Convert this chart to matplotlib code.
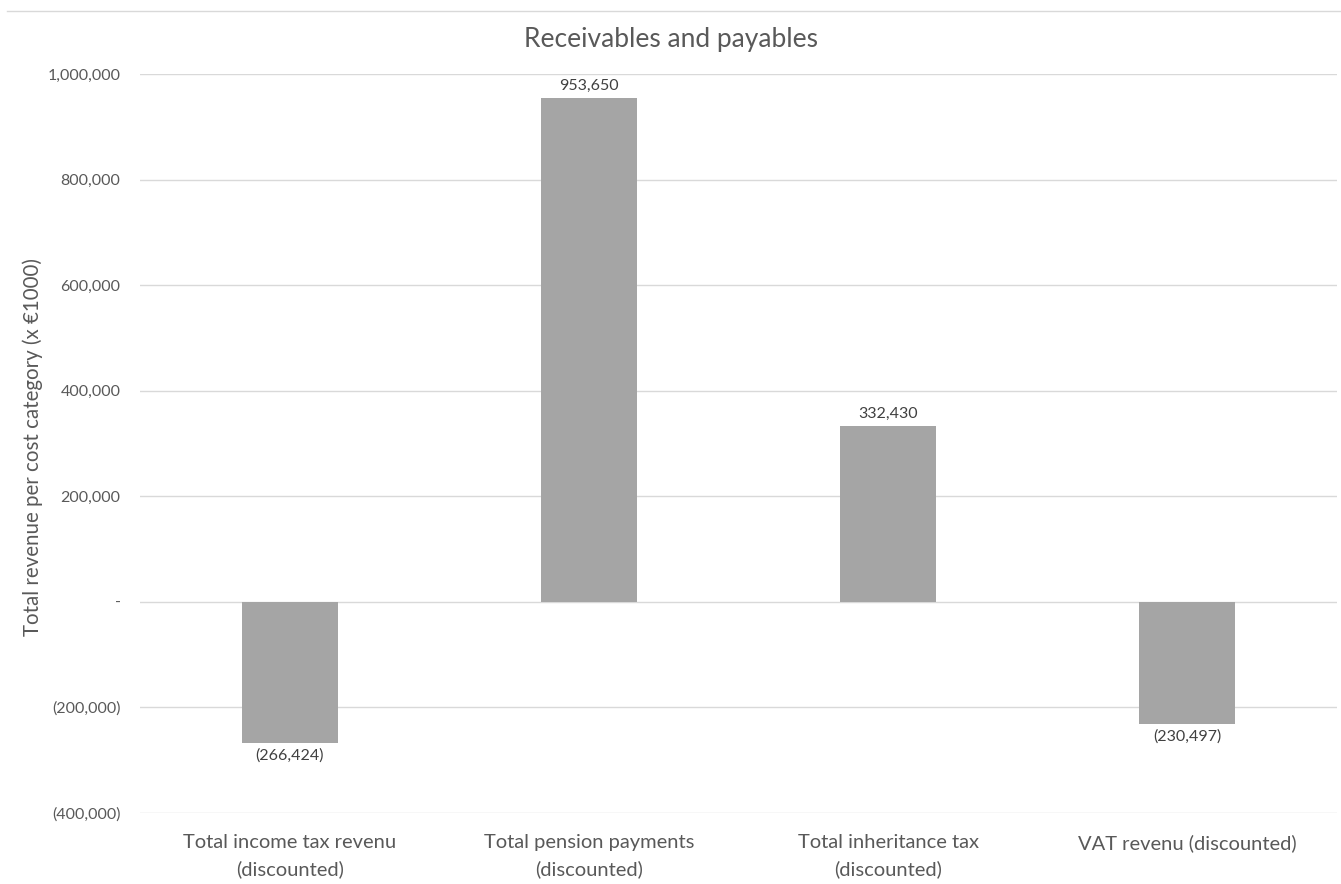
import matplotlib.pyplot as plt
from matplotlib.ticker import FuncFormatter, MultipleLocator
from matplotlib.lines import Line2D

categories = [
    "Total income tax revenu\n(discounted)",
    "Total pension payments\n(discounted)",
    "Total inheritance tax\n(discounted)",
    "VAT revenu (discounted)",
]
values = [-266424, 953650, 332430, -230497]

plt.rcParams['font.family'] = ['Lato', 'DejaVu Sans']
text_color = "#595959"


def acct(v):
    if abs(v) < 0.5:
        return "-"
    s = f"{abs(v):,.0f}"
    return f"({s})" if v < 0 else s


fig = plt.figure(figsize=(13.41, 8.84), dpi=100)
ax = fig.add_axes([0.1044, 0.0803, 0.8926, 0.836])

x = list(range(len(categories)))
bars = ax.bar(x, values, width=0.32, color="#A5A5A5", zorder=3)

for b, v in zip(bars, values):
    cx = b.get_x() + b.get_width() / 2
    if v >= 0:
        ax.annotate(acct(v), (cx, v), xytext=(0, 4), textcoords="offset points",
                    ha="center", va="bottom", fontsize=11.5, color="#404040")
    else:
        ax.annotate(acct(v), (cx, v), xytext=(0, -4), textcoords="offset points",
                    ha="center", va="top", fontsize=11.5, color="#404040")

ax.set_xlim(-0.5, len(categories) - 0.5)
ax.set_ylim(-400000, 1000000)
ax.yaxis.set_major_locator(MultipleLocator(200000))
ax.yaxis.set_major_formatter(FuncFormatter(lambda v, p: acct(v)))
ax.grid(axis="y", color="#D9D9D9", linewidth=1, zorder=0)

ax.set_xticks(x)
ax.set_xticklabels(categories, fontsize=14.5, color=text_color, linespacing=1.6)
ax.tick_params(axis="x", length=0, pad=15)
ax.tick_params(axis="y", length=0, pad=14, labelsize=11.5, labelcolor=text_color)
for s in ax.spines.values():
    s.set_visible(False)

fig.text(33 / 1341, 1 - 447 / 884, "Total revenue per cost category (x €1000)",
         rotation=90, ha="center", va="center", fontsize=14.8, color=text_color)
fig.text(0.5, 1 - 40 / 884, "Receivables and payables", ha="center", va="center",
         fontsize=19, color=text_color)

# chart area top border
fig.add_artist(Line2D([0.005, 1.0], [0.9875, 0.9875], color="#D9D9D9",
                      linewidth=1, transform=fig.transFigure))

fig.savefig("out.png", dpi=100, facecolor="white")
